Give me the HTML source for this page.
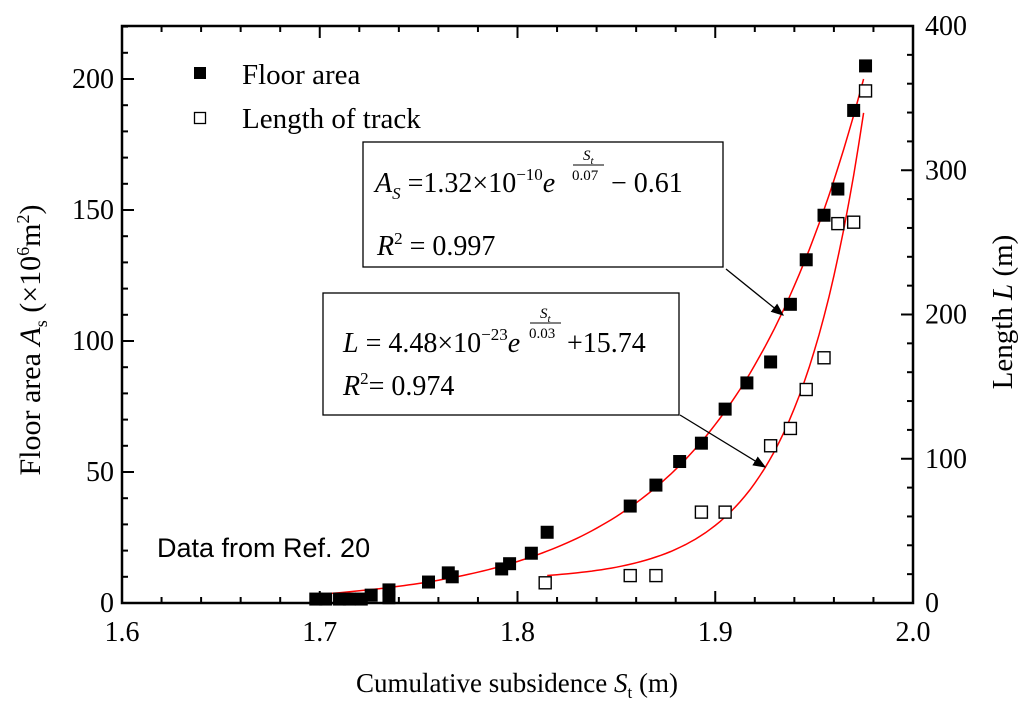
<!DOCTYPE html>
<html><head><meta charset="utf-8"><style>
html,body{margin:0;padding:0;background:#fff;}
svg{display:block;font-family:"Liberation Serif",serif;}
</style></head><body>
<svg id="chart" width="1024" height="711" viewBox="0 0 1024 711">
<g id="axes"></g><g id="curves"></g><g id="marks"></g>
<g>
<rect x="363" y="142" width="360" height="125" fill="#fff" stroke="#000" stroke-width="1.3"/>
<text x="375" y="192" font-size="28"><tspan font-style="italic">A</tspan><tspan font-style="italic" font-size="17" dy="7">S</tspan><tspan dy="-7"> =1.32×10</tspan><tspan font-size="17" dy="-12">−10</tspan><tspan dy="12" font-style="italic">e</tspan></text>
<text x="583" y="160" font-size="15" font-style="italic">S<tspan font-size="11" dy="4">t</tspan></text>
<line x1="573" y1="165" x2="604" y2="165" stroke="#000" stroke-width="1"/>
<text x="572" y="180" font-size="15">0.07</text>
<text x="611" y="192" font-size="28">− 0.61</text>
<text x="377" y="255" font-size="28"><tspan font-style="italic">R</tspan><tspan font-size="17" dy="-11">2</tspan><tspan dy="11"> = 0.997</tspan></text>
</g>
<g>
<rect x="323" y="293" width="356" height="122" fill="#fff" stroke="#000" stroke-width="1.3"/>
<text x="343" y="352" font-size="28"><tspan font-style="italic">L</tspan><tspan> = 4.48×10</tspan><tspan font-size="17" dy="-12">−23</tspan><tspan dy="12" font-style="italic">e</tspan></text>
<text x="540" y="318" font-size="15" font-style="italic">S<tspan font-size="11" dy="4">t</tspan></text>
<line x1="530" y1="323" x2="561" y2="323" stroke="#000" stroke-width="1"/>
<text x="529" y="338" font-size="15">0.03</text>
<text x="567" y="352" font-size="28">+15.74</text>
<text x="343" y="395" font-size="28"><tspan font-style="italic">R</tspan><tspan font-size="17" dy="-11">2</tspan><tspan dy="11">= 0.974</tspan></text>
</g>
<defs><marker id="ah" markerWidth="10" markerHeight="8" refX="9" refY="4" orient="auto"><path d="M0,0 L10,4 L0,8 z" fill="#000"/></marker></defs>
<line x1="726" y1="269" x2="783" y2="315" stroke="#000" stroke-width="1.3" marker-end="url(#ah)"/>
<line x1="680" y1="415" x2="765" y2="467" stroke="#000" stroke-width="1.3" marker-end="url(#ah)"/>
<g>
<rect x="194" y="67" width="12" height="12" fill="#000"/>
<text x="242" y="84" font-size="29">Floor area</text>
<rect x="194.5" y="112.5" width="11" height="11" fill="#fff" stroke="#000" stroke-width="1.3"/>
<text x="242" y="128" font-size="29">Length of track</text>
</g>
<text x="157" y="557" font-family="Liberation Sans, sans-serif" font-size="27">Data from Ref. 20</text>
<text x="517" y="692" font-size="27" text-anchor="middle">Cumulative subsidence <tspan font-style="italic">S</tspan><tspan font-size="17" dy="6">t</tspan><tspan dy="-6"> (m)</tspan></text>
<text transform="translate(40,340) rotate(-90)" font-size="30" text-anchor="middle">Floor area <tspan font-style="italic">A</tspan><tspan font-size="18" dy="7">s</tspan><tspan dy="-7"> (×10</tspan><tspan font-size="18" dy="-11">6</tspan><tspan dy="11">m</tspan><tspan font-size="18" dy="-11">2</tspan><tspan dy="11">)</tspan></text>
<text transform="translate(1012,312) rotate(-90)" font-size="29" text-anchor="middle">Length <tspan font-style="italic">L</tspan> (m)</text>
</svg>
<script>
const floorX=[1.976,1.970,1.962,1.955,1.946,1.938,1.928,1.916,1.905,1.893,1.882,1.870,1.857,1.815,1.807,1.796,1.792,1.767,1.765,1.755,1.735,1.735,1.726,1.721,1.715,1.710,1.703,1.698];
const floorY=[205,188,158,148,131,114,92,84,74,61,54,45,37,27,19,15,13,10,11.5,8,5,2,3,1.5,1.5,1.5,1.5,1.5];
const lenX=[1.814,1.857,1.870,1.893,1.905,1.928,1.938,1.946,1.955,1.962,1.970,1.976];
const lenY=[14,19,19,63,63,109,121,148,170,263,264,355];
const xTicks=[1.6,1.7,1.8,1.9,2.0];
const yLeftTicks=[0,50,100,150,200];
const yRightTicks=[0,100,200,300,400];
const NS='http://www.w3.org/2000/svg';
const X0=122,X1=913,Y0=603,YT=26;
const sx=v=>X0+(v-1.6)/0.4*(X1-X0);
const syL=v=>Y0-v*(603-79)/200;
const syR=v=>Y0-v*(Y0-YT)/400;
function mk(tag,attrs,parent){const e=document.createElementNS(NS,tag);for(const k in attrs)e.setAttribute(k,attrs[k]);parent.appendChild(e);return e;}
const axes=document.getElementById('axes');
const frame=mk('rect',{x:X0,y:YT,width:X1-X0,height:Y0-YT,fill:'none',stroke:'#000','stroke-width':2.5},axes);


for(let i=0;i<=20;i++){const v=1.6+i*0.02;const x=sx(v);const L=i%5===0?12:6;
 mk('line',{x1:x,y1:Y0,x2:x,y2:Y0-L,stroke:'#000','stroke-width':2},axes);
 mk('line',{x1:x,y1:YT,x2:x,y2:YT+L,stroke:'#000','stroke-width':2},axes);}
for(let v=0;v<=220;v+=10){const y=syL(v);if(y<YT)break;const L=v%50===0?12:6;
 mk('line',{x1:X0,y1:y,x2:X0+L,y2:y,stroke:'#000','stroke-width':2},axes);}
for(let v=0;v<=400;v+=20){const y=syR(v);const L=v%100===0?12:6;
 mk('line',{x1:X1,y1:y,x2:X1-L,y2:y,stroke:'#000','stroke-width':2},axes);}
xTicks.forEach(v=>{const t=mk('text',{x:sx(v),y:Y0+38,'font-size':28,'text-anchor':'middle'},axes);t.textContent=v.toFixed(1);
 
 });
yLeftTicks.forEach(v=>{const t=mk('text',{x:X0-8,y:syL(v)+9,'font-size':28,'text-anchor':'end'},axes);t.textContent=v;
 
 });
yRightTicks.forEach(v=>{const t=mk('text',{x:X1+12,y:syR(v)+9,'font-size':28},axes);t.textContent=v;
 
 });
const curves=document.getElementById('curves');
let d='';for(let i=0;i<=110;i++){const v=1.70+i*0.0025;d+=(i?'L':'M')+sx(v).toFixed(1)+','+syL(200.6*Math.exp((v-1.975)/0.07)-0.61).toFixed(1);}
const c1=mk('path',{d:d,fill:'none',stroke:'#f00','stroke-width':1.5},curves);


d='';for(let i=0;i<=64;i++){const v=1.815+i*0.0025;d+=(i?'L':'M')+sx(v).toFixed(1)+','+syR(324*Math.exp((v-1.975)/0.035)+15.74).toFixed(1);}
const c2=mk('path',{d:d,fill:'none',stroke:'#f00','stroke-width':1.5},curves);


const marks=document.getElementById('marks');
floorX.forEach((v,i)=>{const r=mk('rect',{x:sx(v)-6.5,y:syL(floorY[i])-6.5,width:13,height:13,fill:'#000'},marks);
 
 });
lenX.forEach((v,i)=>{const r=mk('rect',{x:sx(v)-6,y:syR(lenY[i])-6,width:12,height:12,fill:'#fff',stroke:'#000','stroke-width':1.4},marks);
 
 });
</script>
</body></html>
